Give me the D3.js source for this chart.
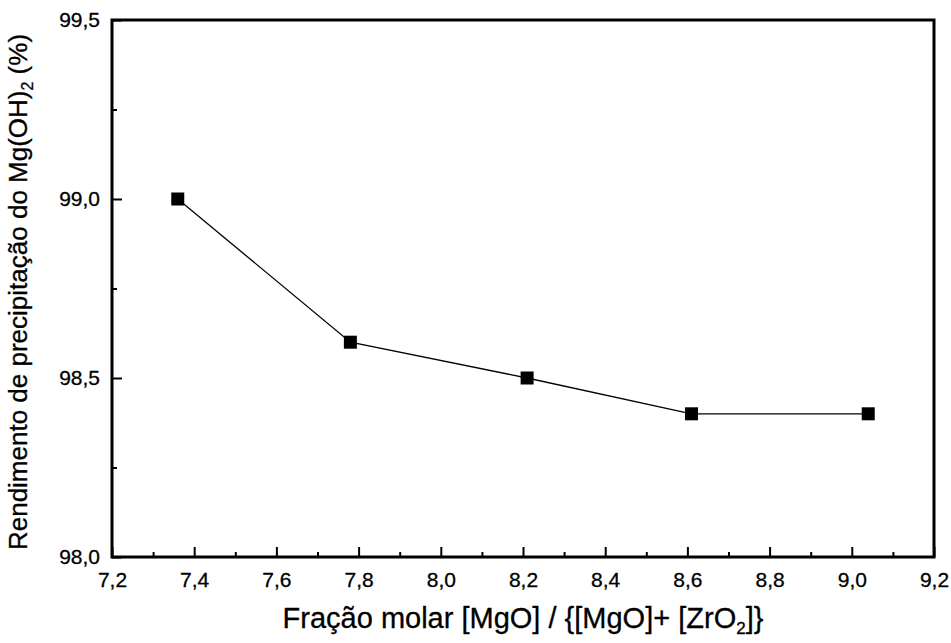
<!DOCTYPE html>
<html>
<head>
<meta charset="utf-8">
<script src="https://cdn.jsdelivr.net/npm/d3@7"></script>
<style>
  body { margin: 0; background: #fff; }
  svg { font-family: "Liberation Sans", Arial, sans-serif; }
</style>
</head>
<body>
<svg id="chart" width="951" height="643"></svg>
<script>
// data
let fracaoMolar = [7.36, 7.78, 8.21, 8.61, 9.04];
let rendimento = [99.0, 98.6, 98.5, 98.4, 98.4];
let xTicks = [7.2, 7.4, 7.6, 7.8, 8.0, 8.2, 8.4, 8.6, 8.8, 9.0, 9.2];
let xMinorTicks = [7.3, 7.5, 7.7, 7.9, 8.1, 8.3, 8.5, 8.7, 8.9, 9.1];
let yTicks = [98.0, 98.5, 99.0, 99.5];
let yMinorTicks = [98.25, 98.75, 99.25];

const margin = {top: 20, right: 17, bottom: 86, left: 112};
let svg = d3.select("#chart");
let width = +svg.attr("width");
let height = +svg.attr("height");
let plotWidth = width - margin.left - margin.right;
let plotHeight = height - margin.top - margin.bottom;

let xScale = d3.scaleLinear().domain([7.2, 9.2]).range([0, plotWidth]);
let yScale = d3.scaleLinear().domain([98.0, 99.5]).range([plotHeight, 0]);

let plot = svg.append("g")
  .attr("transform", "translate(" + margin.left + "," + margin.top + ")");

let fmt = d => d3.format(".1f")(d).replace(".", ",");

// frame
plot.append("rect")
  .attr("width", plotWidth)
  .attr("height", plotHeight)
  .attr("fill", "none")
  .attr("stroke", "#000")
  .attr("stroke-width", 3);

// x axis (ticks inside)
plot.append("g")
  .attr("transform", "translate(0," + plotHeight + ")")
  .call(d3.axisBottom(xScale).tickValues(xTicks).tickSizeInner(-10).tickSizeOuter(0).tickPadding(15).tickFormat(fmt));
plot.append("g")
  .attr("transform", "translate(0," + plotHeight + ")")
  .call(d3.axisBottom(xScale).tickValues(xMinorTicks).tickSizeInner(-5).tickSizeOuter(0).tickFormat(""));

// y axis (ticks inside)
plot.append("g")
  .call(d3.axisLeft(yScale).tickValues(yTicks).tickSizeInner(-10).tickSizeOuter(0).tickPadding(12).tickFormat(fmt));
plot.append("g")
  .call(d3.axisLeft(yScale).tickValues(yMinorTicks).tickSizeInner(-5).tickSizeOuter(0).tickFormat(""));

plot.selectAll(".domain").remove();
plot.selectAll(".tick line").attr("stroke", "#000").attr("stroke-width", 2);
plot.selectAll(".tick text")
  .attr("font-size", "21px")
  .attr("fill", "#000")
  .attr("stroke", "#000")
  .attr("stroke-width", 0.3)
  .attr("font-family", "Liberation Sans, Arial, sans-serif");

// line and markers
let points = fracaoMolar.map((x, i) => ({x: x, y: rendimento[i]}));
let line = d3.line().x(d => xScale(d.x)).y(d => yScale(d.y));

plot.append("path")
  .datum(points)
  .attr("d", line)
  .attr("fill", "none")
  .attr("stroke", "#000")
  .attr("stroke-width", 1.3);

plot.selectAll("rect.marker")
  .data(points)
  .enter()
  .append("rect")
  .attr("class", "marker")
  .attr("x", d => xScale(d.x) - 6.5)
  .attr("y", d => yScale(d.y) - 6.5)
  .attr("width", 13)
  .attr("height", 13)
  .attr("fill", "#000");

// x title
let xTitle = svg.append("text")
  .attr("x", margin.left + plotWidth / 2)
  .attr("y", 628)
  .attr("text-anchor", "middle")
  .attr("font-size", "29px")
  .attr("stroke", "#000")
  .attr("stroke-width", 0.3)
  .attr("fill", "#000");
xTitle.append("tspan").text("Fração molar [MgO] / {[MgO]+ [ZrO");
xTitle.append("tspan").attr("font-size", "17px").attr("dy", 6).text("2");
xTitle.append("tspan").attr("dy", -6).text("]}");

// y title
let yTitle = svg.append("text")
  .attr("transform", "translate(27," + 292 + ") rotate(-90)")
  .attr("text-anchor", "middle")
  .attr("font-size", "26px")
  .attr("stroke", "#000")
  .attr("stroke-width", 0.3)
  .attr("fill", "#000");
yTitle.append("tspan").text("Rendimento de precipitação do Mg(OH)");
yTitle.append("tspan").attr("font-size", "16px").attr("dy", 6).text("2");
yTitle.append("tspan").attr("dy", -6).text(" (%)");
</script>
</body>
</html>
